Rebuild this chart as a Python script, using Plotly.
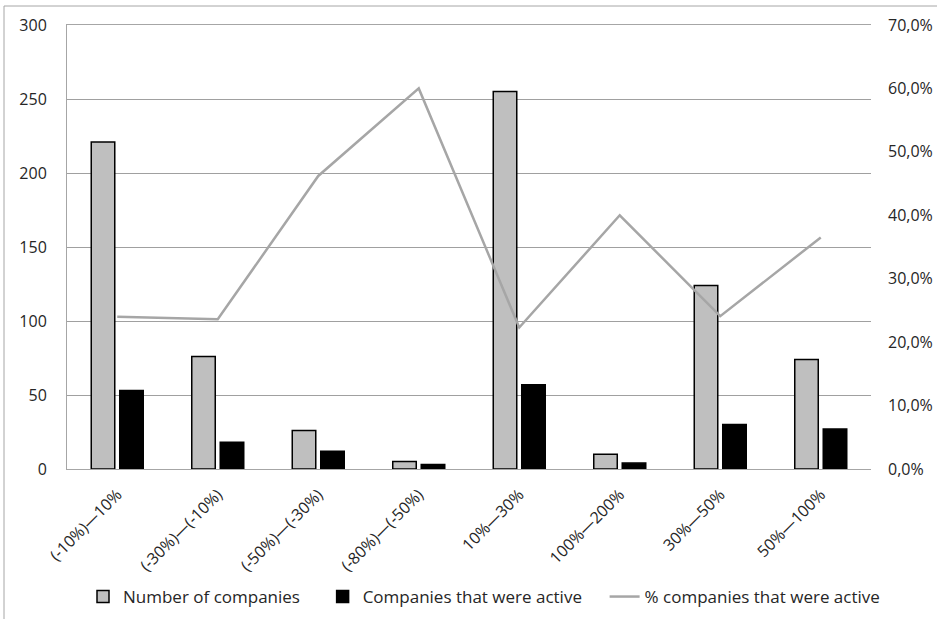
import plotly.graph_objects as go

categories = ["(-10%)\u201410%", "(-30%)\u2014(-10%)", "(-50%)\u2014(-30%)", "(-80%)\u2014(-50%)",
              "10%\u201430%", "100%\u2014200%", "30%\u201450%", "50%\u2014100%"]
number_of_companies = [221, 76, 26, 5, 255, 10, 124, 74]
companies_active = [53, 18, 12, 3, 57, 4, 30, 27]
pct_active = [0.240, 0.236, 0.462, 0.600, 0.223, 0.400, 0.241, 0.365]

FONT = "Open Sans"
FS = 16
PAD = "\u00a0" * 4

fig = go.Figure()
fig.add_trace(go.Bar(
    x=categories, y=number_of_companies, name="Number of companies" + PAD,
    marker=dict(color="#BFBFBF", line=dict(color="#000000", width=1.5)),
))
fig.add_trace(go.Bar(
    x=categories, y=companies_active, name="Companies that were active" + PAD,
    marker=dict(color="#000000", line=dict(color="#000000", width=1.5)),
))
fig.add_trace(go.Scatter(
    x=categories, y=pct_active, name="% companies that were active", yaxis="y2",
    mode="lines", line=dict(color="#A6A6A6", width=2.5),
))

W, H = 937, 619
L, R, T, B = 67, 66, 25, 150
pw, ph = W - L - R, H - T - B

fig.update_layout(
    width=W, height=H,
    margin=dict(l=L, r=R, t=T, b=B, pad=0, autoexpand=False),
    paper_bgcolor="white", plot_bgcolor="white",
    font=dict(family=FONT, size=FS, color="#262626"),
    separators=",.",
    barmode="group", bargap=0.433, bargroupgap=0.175,
    showlegend=True,
    legend=dict(orientation="h", x=(83 - L) / pw, xanchor="left",
                y=(469 - 597) / ph, yanchor="middle",
                font=dict(family=FONT, size=17, color="#262626"),
                traceorder="normal", tracegroupgap=0),
    xaxis=dict(tickangle=-45, showgrid=False, showline=True, linecolor="#A6A6A6",
               linewidth=1, mirror=True, ticks="", automargin=False,
               ticklabelstandoff=9, tickfont=dict(size=FS)),
    yaxis=dict(range=[0, 300], dtick=50, showgrid=True, gridcolor="#A0A0A0",
               gridwidth=1, showline=True, linecolor="#A6A6A6", linewidth=1,
               zeroline=False, ticks="", ticklabelstandoff=16, automargin=False,
               tickfont=dict(size=FS)),
    yaxis2=dict(range=[0, 0.7], dtick=0.1, tickformat=".1%", overlaying="y",
                side="right", showgrid=False, showline=False, zeroline=False,
                ticks="", ticklabelstandoff=16, automargin=False,
                tickfont=dict(size=FS)),
)

# outer chart border (top and left)
fig.add_shape(type="line", xref="paper", yref="paper",
              x0=(4 - L) / pw, x1=1 + (R + 5) / pw, y0=1 + (T - 6) / ph, y1=1 + (T - 6) / ph,
              line=dict(color="#A6A6A6", width=1))
fig.add_shape(type="line", xref="paper", yref="paper",
              x0=(4 - L) / pw, x1=(4 - L) / pw, y0=1 + (T - 6) / ph, y1=-(B + 5) / ph,
              line=dict(color="#A6A6A6", width=1))

fig.write_html("out.html")
